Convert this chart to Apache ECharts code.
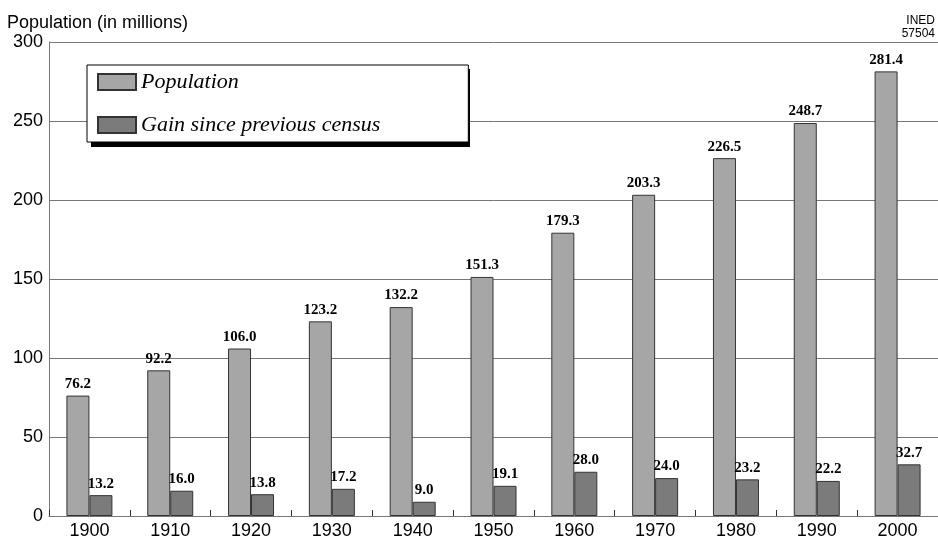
<!DOCTYPE html>
<html>
<head>
<meta charset="utf-8">
<script src="https://cdn.jsdelivr.net/npm/echarts@6/dist/echarts.min.js"></script>
<style>html,body{margin:0;padding:0;background:#fff}#c{width:938px;height:542px}</style>
</head>
<body>
<div id="c"></div>
<script>
const years = ['1900','1910','1920','1930','1940','1950','1960','1970','1980','1990','2000'];
const population = [76.2, 92.2, 106.0, 123.2, 132.2, 151.3, 179.3, 203.3, 226.5, 248.7, 281.4];
const gain = [13.2, 16.0, 13.8, 17.2, 9.0, 19.1, 28.0, 24.0, 23.2, 22.2, 32.7];
const yTicks = {min: 0, max: 300, interval: 50};

const chart = echarts.init(document.getElementById('c'), null, {renderer: 'canvas'});
const labelStyle = {
  show: true, position: 'top', distance: 4,
  fontFamily: '"Liberation Serif", serif', fontWeight: 'bold', fontSize: 15, color: '#000',
  formatter: p => p.value.toFixed(1)
};
const smallText = {fontFamily: '"Liberation Sans", Arial, sans-serif', fontWeight: 'normal', fontSize: 12, color: '#000'};
chart.setOption({
  animation: false,
  backgroundColor: '#fff',
  grid: {left: 49, right: 0, top: 42, bottom: 26},
  title: [
    {text: 'Population (in millions)', left: 2, top: 9,
     textStyle: {fontFamily: '"Liberation Sans", Arial, sans-serif', fontWeight: 'normal', fontSize: 18, color: '#000'}},
    {text: 'INED', right: 3, top: 15, padding: 0, textStyle: smallText},
    {text: '57504', right: 3, top: 28, padding: 0, textStyle: smallText}
  ],
  graphic: [
    {type: 'rect', z: 3, shape: {x: 91, y: 69, width: 379, height: 78}, style: {fill: '#000'}}
  ],
  legend: {
    z: 4,
    orient: 'vertical', left: 87, top: 65,
    padding: [6, 88, 6, 10],
    itemWidth: 38, itemHeight: 16, itemGap: 21,
    icon: 'rect',
    backgroundColor: '#fff', borderColor: '#000', borderWidth: 1,
    textStyle: {fontFamily: '"Liberation Serif", serif', fontStyle: 'italic', fontSize: 22, color: '#000'},
    data: ['Population', 'Gain since previous census']
  },
  xAxis: {
    type: 'category', data: years,
    axisLine: {lineStyle: {color: '#777', width: 1}},
    axisTick: {show: true, inside: true, length: 6, alignWithLabel: false, lineStyle: {color: '#333'}},
    axisLabel: {fontFamily: '"Liberation Sans", Arial, sans-serif', fontSize: 18, color: '#000', margin: 6}
  },
  yAxis: {
    type: 'value', min: yTicks.min, max: yTicks.max, interval: yTicks.interval,
    axisLine: {show: true, lineStyle: {color: '#777', width: 1}},
    axisTick: {show: false},
    splitLine: {show: true, lineStyle: {color: '#777', width: 1}},
    axisLabel: {fontFamily: '"Liberation Sans", Arial, sans-serif', fontSize: 18, color: '#000', margin: 6}
  },
  series: [
    {name: 'Population', type: 'bar', data: population, barWidth: 23, barGap: '0%',
     itemStyle: {color: '#a6a6a6', borderColor: '#333', borderWidth: 1}, label: labelStyle},
    {name: 'Gain since previous census', type: 'bar', data: gain, barWidth: 23, barGap: '0%',
     itemStyle: {color: '#7b7b7b', borderColor: '#333', borderWidth: 1}, label: labelStyle}
  ]
});
</script>
</body>
</html>
